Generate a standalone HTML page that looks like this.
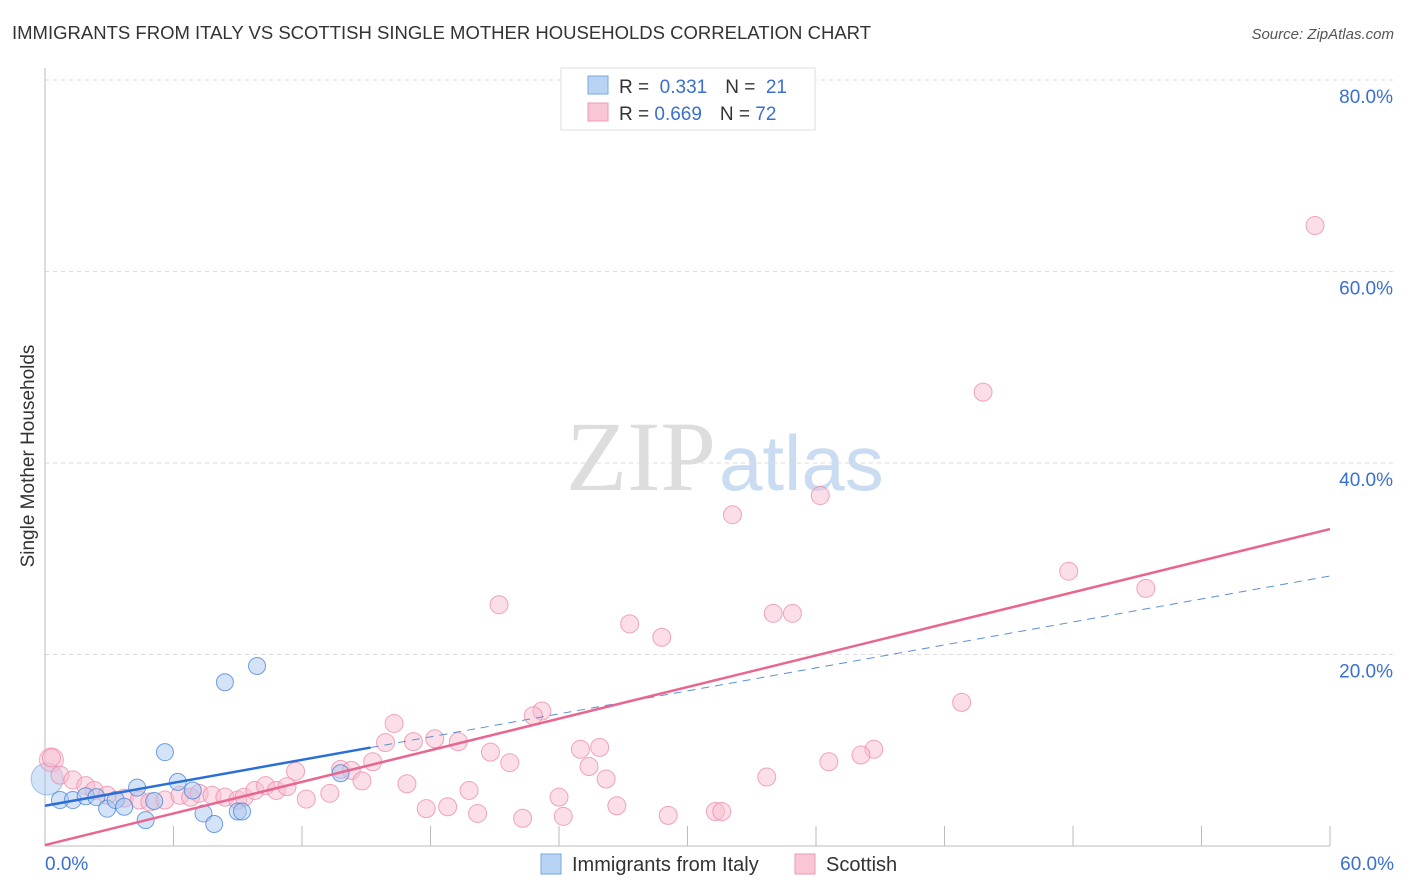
<!DOCTYPE html>
<html><head><meta charset="utf-8"><style>
body{margin:0;background:#fff;font-family:"Liberation Sans",sans-serif;}
svg{display:block}
</style></head><body>
<svg width="1406" height="892" xmlns="http://www.w3.org/2000/svg">
<text x="12" y="39" font-size="18.5" fill="#333" textLength="859">IMMIGRANTS FROM ITALY VS SCOTTISH SINGLE MOTHER HOUSEHOLDS CORRELATION CHART</text>
<text x="1394" y="39" font-size="15" fill="#555" font-style="italic" text-anchor="end">Source: ZipAtlas.com</text>
<text x="716" y="490" font-size="100" fill="#ddd" text-anchor="end" font-family="Liberation Serif,serif">ZIP</text>
<text x="719" y="490" font-size="78" fill="#c9dcf2">atlas</text>
<text transform="translate(34,456) rotate(-90)" font-size="19" fill="#333" text-anchor="middle">Single Mother Households</text>
<g id="grid"></g><g id="axes"></g><g id="pts"></g><g id="lines"></g>
<g>
<rect x="561" y="68" width="254" height="62" fill="#fff" stroke="#ddd"/>
<rect x="588" y="76" width="20" height="18" fill="#b8d4f5" stroke="#7aa7e0"/>
<rect x="588" y="103" width="20" height="18" fill="#f9c6d5" stroke="#ee9ab3"/>
<text x="619" y="93" font-size="19" fill="#333">R = <tspan fill="#3a6fd0">&#160;0.331</tspan><tspan dx="18">N = </tspan><tspan fill="#3a6fd0">&#160;21</tspan></text>
<text x="619" y="120" font-size="19" fill="#333">R = <tspan fill="#3a6fd0">0.669</tspan><tspan dx="18">N = </tspan><tspan fill="#3a6fd0">72</tspan></text>
</g>
<g>
<rect x="541" y="854" width="20" height="20" fill="#b8d4f5" stroke="#7aa7e0"/>
<text x="572" y="871" font-size="20" fill="#333">Immigrants from Italy</text>
<rect x="795" y="854" width="20" height="20" fill="#f9c6d5" stroke="#ee9ab3"/>
<text x="826" y="871" font-size="20" fill="#333">Scottish</text>
</g>
</svg>
<script>
const yTicks=[20,40,60,80];
const yTickLabels=["20.0%","40.0%","60.0%","80.0%"];
const xTickVals=[6,12,18,24,30,36,42,48,54,60];
const xLabels=["0.0%","60.0%"];
const italyX=[0.7,1.3,1.9,2.4,2.9,3.3,3.7,4.3,4.7,5.1,5.6,6.2,6.9,7.4,7.9,8.4,9.0,9.2,9.9,13.8];
const italyY=[4.8,4.8,5.2,5.1,3.9,4.8,4.1,6.1,2.7,4.7,9.8,6.7,5.8,3.4,2.3,17.1,3.6,3.6,18.8,7.6];
const scotX=[59.3,43.8,36.2,32.1,47.8,51.4,21.2,34.0,34.9,27.3,28.8,42.8,23.2,22.8,16.3,15.9,17.2,18.2,19.3,20.8,25.0,25.9,38.7,38.1,21.7,36.6,33.7,25.4,26.2,13.8,11.7,15.3,14.3,14.8,16.9,19.8,13.3,12.2,24.0,26.7,17.8,18.8,20.2,22.3,24.2,29.1,31.3,31.6,0.3,0.7,1.3,1.9,2.3,2.9,3.7,4.4,4.9,5.6,6.3,6.8,7.2,7.8,8.4,9.0,9.3,9.8,10.3,10.8,11.3];
const scotY=[64.8,47.4,36.6,34.6,28.7,26.9,25.2,24.3,24.3,23.2,21.8,15.0,14.1,13.6,12.8,10.8,10.9,11.2,10.9,9.8,10.1,10.3,10.1,9.5,8.7,8.8,7.2,8.3,7.0,8.0,7.8,8.8,7.9,6.8,6.5,5.8,5.5,4.9,5.1,4.2,3.9,4.1,3.4,2.9,3.1,3.2,3.6,3.6,9.2,7.4,6.9,6.3,5.8,5.3,5.0,4.8,4.6,4.8,5.3,5.1,5.5,5.3,5.1,4.8,5.1,5.8,6.3,5.8,6.2];
const italyTrend=[4.2,28.2];
const scotTrend=[0.1,33.1];
const italyMaxX=15.2;
const NS="http://www.w3.org/2000/svg";
const X=v=>45+v/60*1285, Y=v=>846-v*9.575;
function mk(tag,attrs,parent){const e=document.createElementNS(NS,tag);for(const k in attrs)e.setAttribute(k,attrs[k]);document.getElementById(parent).appendChild(e);return e;}
yTicks.forEach((t,i)=>{
 const g=mk('line',{x1:45,x2:1394,y1:Y(t),y2:Y(t),stroke:'#ddd','stroke-dasharray':'4,4'},'grid');
 
 
 const l=mk('text',{x:1393,y:Y(t)+23,'font-size':19,fill:'#3a6fd0','text-anchor':'end'},'grid');
 l.textContent=yTickLabels[i];
 
 
});
let a=mk('line',{x1:45,x2:45,y1:68,y2:846,stroke:'#bbb'},'axes');


a=mk('line',{x1:45,x2:1330,y1:846,y2:846,stroke:'#bbb'},'axes');


xTickVals.forEach(t=>{const e=mk('line',{x1:X(t),x2:X(t),y1:826,y2:846,stroke:'#bbb'},'axes');
 
 });
let t1=mk('text',{x:45,y:870,'font-size':19,fill:'#3a6fd0'},'axes');t1.textContent=xLabels[0];


let t2=mk('text',{x:1394,y:870,'font-size':19,fill:'#3a6fd0','text-anchor':'end'},'axes');t2.textContent=xLabels[1];


let big=mk('circle',{cx:X(0.1),cy:Y(7.0),r:16,fill:'rgba(160,195,240,0.45)',stroke:'rgba(90,140,220,0.5)'},'pts');


let bigp=mk('circle',{cx:X(0.3),cy:Y(9.0),r:12,fill:'rgba(248,180,200,0.45)',stroke:'rgba(235,130,165,0.6)'},'pts');


scotX.forEach((v,i)=>{const c=mk('circle',{cx:X(v),cy:Y(scotY[i]),r:9,fill:'rgba(248,190,208,0.5)',stroke:'rgba(235,130,165,0.7)'},'pts');
 
 });
italyX.forEach((v,i)=>{const c=mk('circle',{cx:X(v),cy:Y(italyY[i]),r:8.5,fill:'rgba(170,200,240,0.5)',stroke:'rgba(70,130,215,0.75)'},'pts');
 
 });
const iy=x=>italyTrend[0]+(italyTrend[1]-italyTrend[0])*x/60;
let l1=mk('line',{x1:X(italyMaxX),y1:Y(iy(italyMaxX)),x2:X(60),y2:Y(iy(60)),stroke:'#5b8fd6','stroke-width':1,'stroke-dasharray':'8,6'},'lines');


let l2=mk('line',{x1:X(0),y1:Y(iy(0)),x2:X(italyMaxX),y2:Y(iy(italyMaxX)),stroke:'#2a6fd6','stroke-width':2.5},'lines');


let l3=mk('line',{x1:X(0),y1:Y(scotTrend[0]),x2:X(60),y2:Y(scotTrend[1]),stroke:'#e8668f','stroke-width':2.5},'lines');


</script>
</body></html>
